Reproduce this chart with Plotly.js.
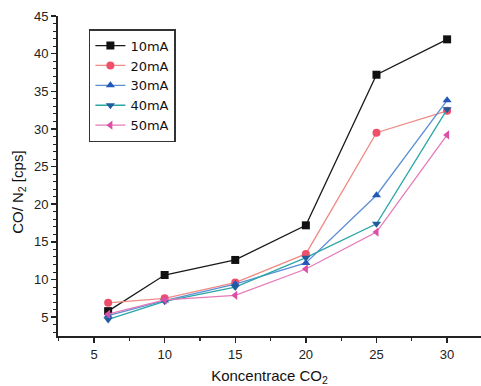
<!DOCTYPE html>
<html>
<head>
<meta charset="utf-8">
<script src="https://cdn.plot.ly/plotly-3.0.1.min.js"></script>
<style>html,body{margin:0;padding:0;background:#fff;}#chart{width:481px;height:386px;}</style>
</head>
<body>
<div id="chart"></div>
<script>
const concentration = [6, 10, 15, 20, 25, 30];
const seriesNames = ["10mA", "20mA", "30mA", "40mA", "50mA"];
const s10mA = [5.8, 10.6, 12.6, 17.2, 37.2, 41.9];
const s20mA = [6.9, 7.5, 9.6, 13.4, 29.5, 32.4];
const s30mA = [5.2, 7.2, 9.4, 12.2, 21.2, 33.8];
const s40mA = [4.7, 7.1, 9.0, 12.9, 17.4, 32.6];
const s50mA = [5.4, 7.3, 7.9, 11.4, 16.3, 29.2];
const xTicks = [5, 10, 15, 20, 25, 30];
const yTicks = [5, 10, 15, 20, 25, 30, 35, 40, 45];

const styles = [
  {line: "#1a1a1a", marker: "#111111", symbol: "square"},
  {line: "#f08a84", marker: "#ef4f68", symbol: "circle"},
  {line: "#5a8fd6", marker: "#2358b8", symbol: "triangle-up"},
  {line: "#2aa6a6", marker: "#1f5c9e", symbol: "triangle-down"},
  {line: "#e779b8", marker: "#dc4fa6", symbol: "triangle-left"}
];
const allSeries = [s10mA, s20mA, s30mA, s40mA, s50mA];

const traces = allSeries.map((ys, i) => ({
  x: concentration,
  y: ys,
  name: seriesNames[i],
  type: "scatter",
  mode: "lines+markers",
  line: {color: styles[i].line, width: 1.3},
  marker: {color: styles[i].marker, symbol: styles[i].symbol, size: 8}
}));

const layout = {
  width: 481,
  height: 386,
  margin: {l: 58, r: 0, t: 16, b: 50},
  paper_bgcolor: "#fff",
  plot_bgcolor: "#fff",
  font: {family: "Liberation Sans, Arial, sans-serif", color: "#222", size: 13},
  showlegend: true,
  legend: {
    x: 0.073, y: 0.959, xanchor: "left", yanchor: "top",
    bordercolor: "#333", borderwidth: 1.5, bgcolor: "#fff",
    font: {family: "DejaVu Sans, sans-serif", size: 13, color: "#111"},
    tracegroupgap: 0
  },
  xaxis: {
    range: [2.45, 32.4],
    tickvals: xTicks,
    ticktext: xTicks.map(String),
    showgrid: false, zeroline: false,
    showline: true, linecolor: "#222", linewidth: 2,
    ticks: "outside", ticklen: 5, tickwidth: 1.5, tickcolor: "#222",
    minor: {dtick: 2.5, ticks: "outside", ticklen: 3, tickcolor: "#222", tickwidth: 1.2},
    tickfont: {size: 13},
    title: {text: "Koncentrace CO<sub>2</sub>", font: {size: 15, color: "#111"}, standoff: 10}
  },
  yaxis: {
    range: [2.5, 45],
    tickvals: yTicks,
    ticktext: yTicks.map(String),
    showgrid: false, zeroline: false,
    showline: true, linecolor: "#222", linewidth: 2,
    ticks: "outside", ticklen: 5, tickwidth: 1.5, tickcolor: "#222",
    minor: {dtick: 1, ticks: "outside", ticklen: 3, tickcolor: "#222", tickwidth: 1},
    tickfont: {size: 13}
  },
  annotations: [{
    text: "CO/ N<sub>2</sub> [cps]",
    xref: "paper", yref: "paper",
    x: -0.095, y: 0.45, xanchor: "center", yanchor: "middle",
    textangle: -90, showarrow: false,
    font: {size: 15, color: "#111"}
  }]
};

Plotly.newPlot("chart", traces, layout, {displayModeBar: false, staticPlot: true});
</script>
</body>
</html>
